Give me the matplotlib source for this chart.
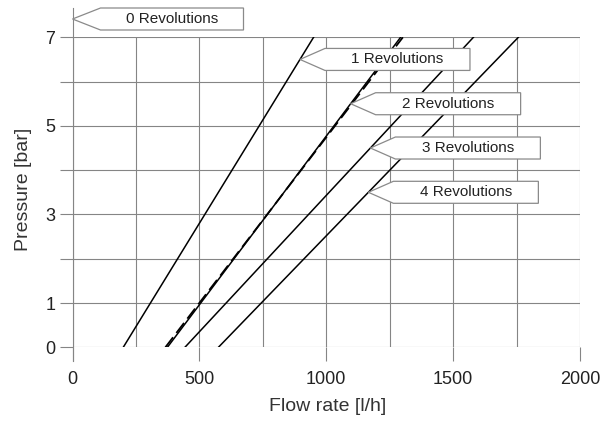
import numpy as np
import matplotlib
matplotlib.use('Agg')
import matplotlib.pyplot as plt
from matplotlib.patches import Polygon

plt.rcParams['font.family'] = ['Liberation Sans', 'DejaVu Sans']

# flow rate [l/h] of each curve at 0 bar and at 7 bar
pressure_ends = [0, 7]
rev1_flow = [200, 950]
rev2_flow = [374, 1293]
rev2_dashed_flow = [366, 1302]
rev3_flow = [443, 1580]
rev4_flow = [575, 1757]

label_texts = ['1 Revolutions', '2 Revolutions', '3 Revolutions', '4 Revolutions']
label_pressures = [6.5, 5.5, 4.5, 3.5]

x_ticks = [0, 500, 1000, 1500, 2000]
x_minor = [250, 750, 1250, 1750]
y_ticks = [0, 1, 2, 3, 4, 5, 6, 7]
y_ticklabels = ['0', '1', '', '3', '', '5', '', '7']

W, H = 612, 421
fig = plt.figure(figsize=(W / 100, H / 100), dpi=100)
x0, x1, y0, y1 = 72.5, 580, 347.3, 37.3
ax = fig.add_axes([x0 / W, 1 - y0 / H, (x1 - x0) / W, (y0 - y1) / H])
ax.set_xlim(0, 2000)
ax.set_ylim(0, 7)
for s in ax.spines.values():
    s.set_visible(False)

grid_c = '#858585'
ax.set_xticks(x_ticks)
ax.set_xticks(x_minor, minor=True)
ax.set_yticks(y_ticks)
ax.set_yticklabels(y_ticklabels)
ax.tick_params(axis='x', which='major', length=10.4, width=0.8, color=grid_c,
               labelsize=13, pad=6.5, labelcolor='#222222')
ax.tick_params(axis='x', which='minor', length=0)
ax.tick_params(axis='y', which='major', length=9.4, width=0.8, color=grid_c,
               labelsize=13, pad=3, labelcolor='#222222')
ax.grid(True, which='both', color=grid_c, lw=0.8)
ax.set_axisbelow(True)

# left axis line reaching up to the "0 Revolutions" marker
ppx = 2000 / (x1 - x0)   # flow units per pixel
ppy = 7 / (y0 - y1)      # bar per pixel
ax.plot([0, 0], [-14 * ppy, 7 + 29 * ppy], color=grid_c, lw=0.8, clip_on=False)

for flow in [rev1_flow, rev2_flow, rev3_flow, rev4_flow]:
    ax.plot(flow, pressure_ends, color='black', lw=1.1)
ax.plot(rev2_dashed_flow, pressure_ends, color='black', lw=1.3, dashes=(7, 3))


def arrow_label(xq, yp, text, arrow_w=25, box_w=145, box_h=22):
    hh = box_h / 2
    pts = [(xq, yp),
           (xq + arrow_w * ppx, yp + hh * ppy),
           (xq + (arrow_w + box_w) * ppx, yp + hh * ppy),
           (xq + (arrow_w + box_w) * ppx, yp - hh * ppy),
           (xq + arrow_w * ppx, yp - hh * ppy)]
    ax.add_patch(Polygon(pts, closed=True, facecolor='white', edgecolor='#8a8a8a',
                         lw=0.9, clip_on=False, zorder=5))
    ax.text(xq + (arrow_w + box_w / 2) * ppx, yp, text, ha='center', va='center',
            fontsize=11, color='#222222', zorder=6)


arrow_label(0, 7 + (y1 - 19) * ppy, '0 Revolutions', arrow_w=28, box_w=143)
curves = [rev1_flow, rev2_flow, rev3_flow, rev4_flow]
for flow, txt, p in zip(curves, label_texts, label_pressures):
    q = np.interp(p, pressure_ends, flow)
    arrow_label(q, p, txt)

ax.text(329, 7 + (y1 - 19) * ppy, 'DN 15', ha='center', va='center',
        fontsize=13, color='#222222')

ax.text((327.5 - x0) / (x1 - x0), (y0 - 406.7) / (y0 - y1), 'Flow rate [l/h]',
        transform=ax.transAxes, ha='center', va='center', fontsize=14, color='#333333')
ax.text((23.3 - x0) / (x1 - x0), (y0 - 189) / (y0 - y1), 'Pressure [bar]',
        transform=ax.transAxes, ha='center', va='center', rotation=90,
        fontsize=14, color='#333333')

fig.savefig('out.png', dpi=100)
